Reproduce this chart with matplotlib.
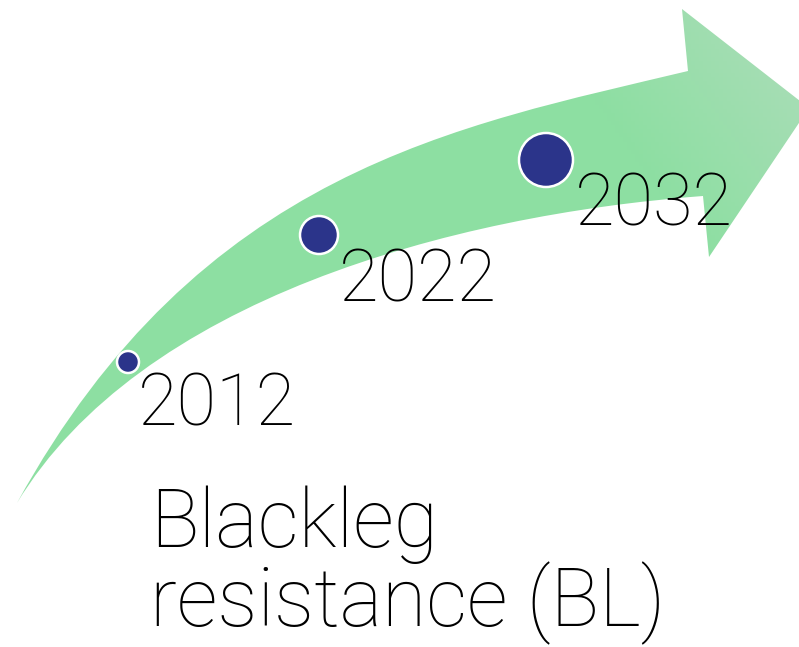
import numpy as np
import matplotlib.pyplot as plt
from matplotlib.path import Path
from matplotlib.patches import PathPatch, Circle
from matplotlib.colors import LinearSegmentedColormap

# milestones along the arrow
years = ["2012", "2022", "2032"]
dot_x = [128, 319, 546]
dot_y = [362, 235, 160]
dot_r = [11, 19, 27]
label_x = [138, 339, 575]
label_y = [426, 301, 226]

title_lines = ["Blackleg", "resistance (BL)"]
title_y = [547, 626]

FONT = ["Roboto", "DejaVu Sans"]

W, H = 799, 647
fig = plt.figure(figsize=(W / 100, H / 100), dpi=100)
ax = fig.add_axes([0, 0, 1, 1])
ax.set_xlim(0, W)
ax.set_ylim(H, 0)
ax.axis("off")

# arrow outline (pixel coords): upper edge, head, lower edge back to tail
verts = [
    (17, 503), (200, 170), (458, 126), (688, 71),
    (682, 9), (809, 108), (709, 257), (703, 196),
    (450, 215), (140, 300), (17, 503),
    (17, 503),
]
codes = [Path.MOVETO, Path.CURVE4, Path.CURVE4, Path.CURVE4,
         Path.LINETO, Path.LINETO, Path.LINETO, Path.LINETO,
         Path.CURVE4, Path.CURVE4, Path.CURVE4,
         Path.CLOSEPOLY]
arrow = PathPatch(Path(verts, codes), facecolor="none", edgecolor="none")
ax.add_patch(arrow)

# soft gradient: plain green, lighter toward the top-right of the head
gx, gy = np.meshgrid(np.linspace(0, 1, 200), np.linspace(0, 1, 160))
grad = np.clip((gx - 0.8) * 3.5 + (0.25 - gy) * 2.0, 0, 1)
cmap = LinearSegmentedColormap.from_list("g", ["#8DDFA2", "#A8DDB6"])
img = ax.imshow(grad, cmap=cmap, extent=[0, W, H, 0], origin="upper",
                aspect="auto", zorder=1)
img.set_clip_path(arrow)

for x, y, r in zip(dot_x, dot_y, dot_r):
    ax.add_patch(Circle((x, y), r, facecolor="#2B348A", edgecolor="white",
                        linewidth=1.8, zorder=3))

for lx, ly, t in zip(label_x, label_y, years):
    ax.text(lx, ly, t, fontsize=52, family=FONT, weight="light", color="black",
            ha="left", va="baseline", zorder=4)

for t, y in zip(title_lines, title_y):
    ax.text(150, y, t, fontsize=58, family=FONT, weight="light", color="black",
            ha="left", va="baseline", zorder=4)

fig.savefig("out.png", dpi=100)
